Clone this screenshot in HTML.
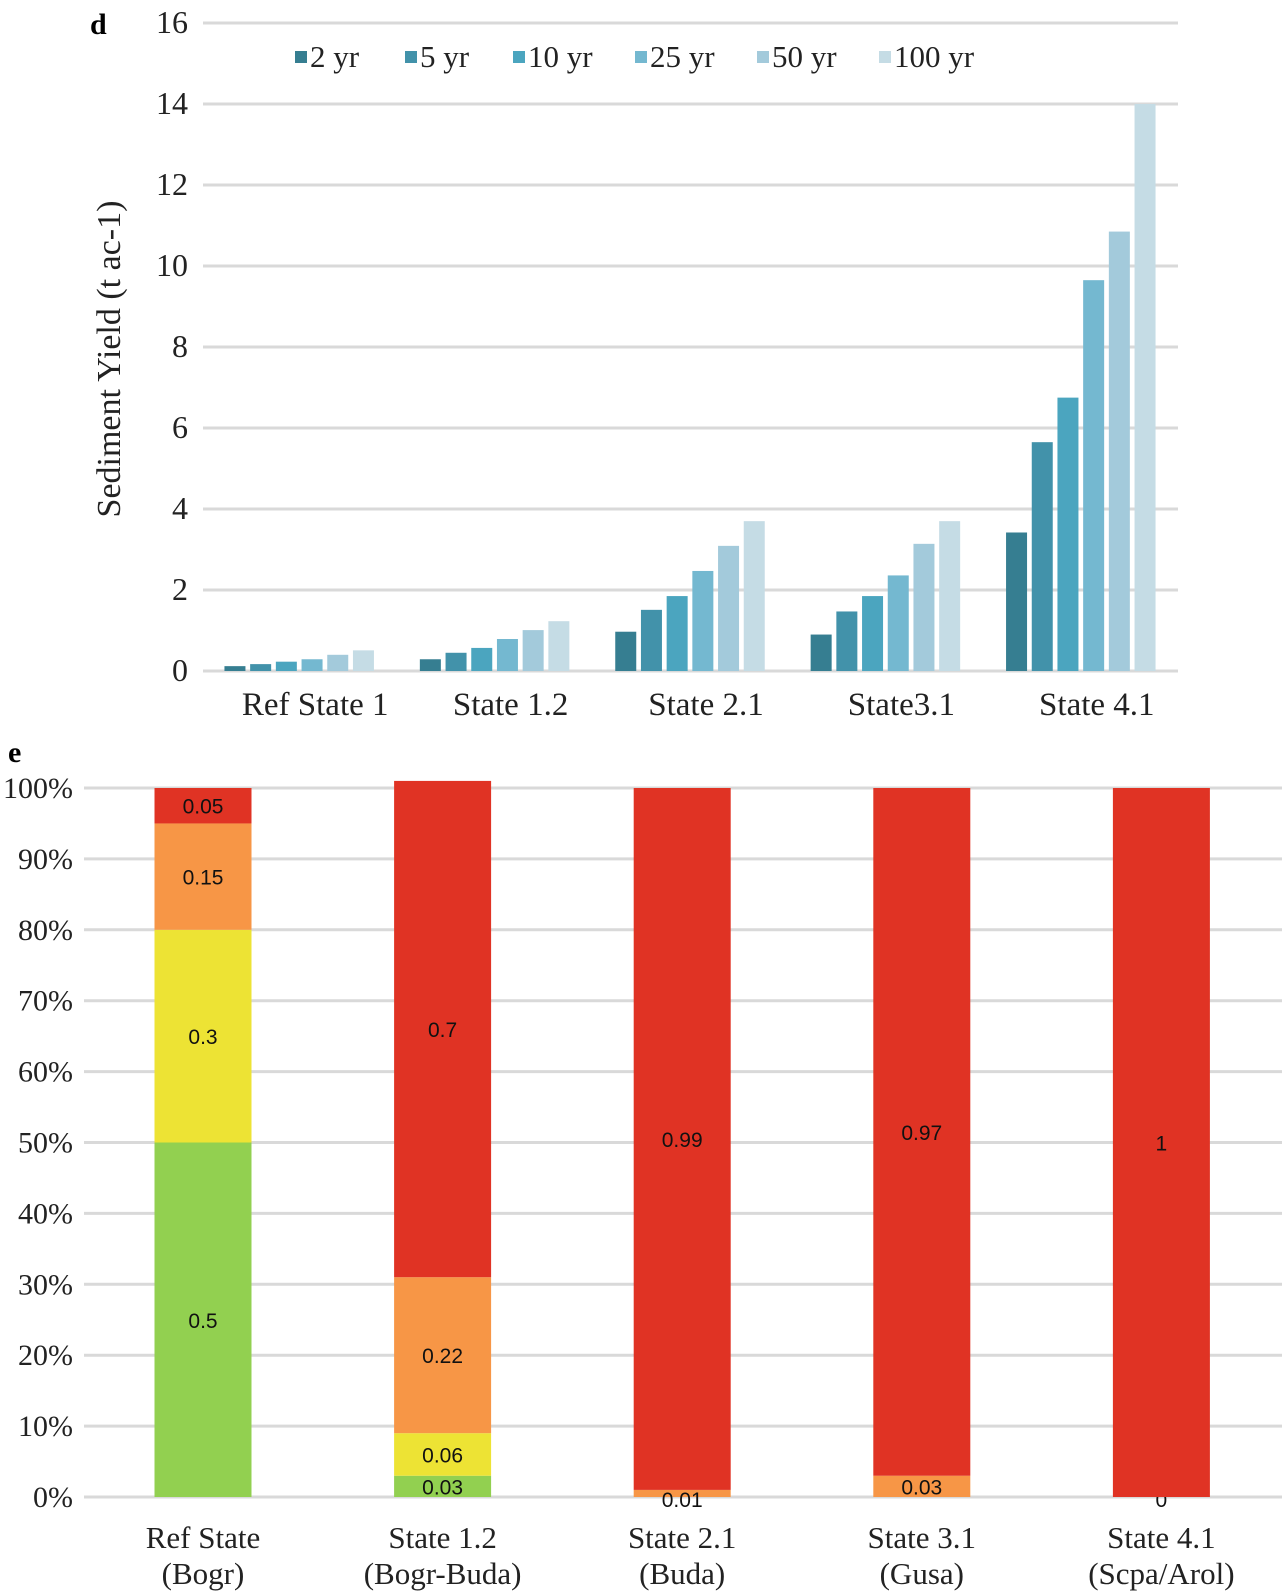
<!DOCTYPE html>
<html><head><meta charset="utf-8"><style>
html,body{margin:0;padding:0;background:#fff;}
svg{display:block;}
</style></head><body>
<svg id="c" width="1284" height="1592" xmlns="http://www.w3.org/2000/svg">
<text x="90" y="34" font-family="Liberation Serif, serif" font-weight="bold" font-size="30">d</text>
<text x="8" y="762" font-family="Liberation Serif, serif" font-weight="bold" font-size="30">e</text>
<text transform="translate(120,359) rotate(-90)" text-anchor="middle" font-family="Liberation Serif, serif" font-size="34" fill="#222">Sediment Yield (t ac-1)</text>
<g id="d"></g><g id="e"></g>
</svg>
<script>
const NS='http://www.w3.org/2000/svg';
const dCats=['Ref State 1','State 1.2','State 2.1','State3.1','State 4.1'];
const dSeries=['2 yr','5 yr','10 yr','25 yr','50 yr','100 yr'];
const dColors=['#367e91','#4292aa','#4ba5bf','#74b8d0','#a3cadb','#c5dce5'];
const v2=[0.12,0.29,0.97,0.90,3.42];
const v5=[0.17,0.45,1.51,1.47,5.65];
const v10=[0.23,0.57,1.85,1.85,6.75];
const v25=[0.29,0.79,2.47,2.36,9.65];
const v50=[0.40,1.01,3.09,3.14,10.85];
const v100=[0.51,1.23,3.70,3.70,14.0];
const dTicks=[0,2,4,6,8,10,12,14,16];

const eCats=[['Ref State','(Bogr)'],['State 1.2','(Bogr-Buda)'],['State 2.1','(Buda)'],['State 3.1','(Gusa)'],['State 4.1','(Scpa/Arol)']];
const eGreen=[0.5,0.03,0,0,0];
const eYellow=[0.3,0.06,0,0,0];
const eOrange=[0.15,0.22,0.01,0.03,0];
const eRed=[0.05,0.7,0.99,0.97,1];
const eTicks=[0,10,20,30,40,50,60,70,80,90,100];

function mk(tag,attrs,parent,text){const el=document.createElementNS(NS,tag);for(const k in attrs)el.setAttribute(k,attrs[k]);if(text!==undefined)el.textContent=text;parent.appendChild(el);return el;}

// Chart d
const gd=document.getElementById('d');
const dy=v=>671-v*40.5;
const bandW=195.4, x0=201.5, pitch=25.7, bw=21;
const dx=i=>x0+bandW*i;
dTicks.forEach(t=>{
  const l=mk('line',{x1:203,x2:1178,y1:dy(t),y2:dy(t),stroke:'#d9d9d9','stroke-width':3},gd);
  
  
  const tx=mk('text',{x:188,y:dy(t)+10,'text-anchor':'end','font-family':'Liberation Serif, serif','font-size':32,fill:'#222'},gd,String(t));
  
  
});
const dVals=[v2,v5,v10,v25,v50,v100];
dCats.forEach((c,i)=>{
  const start=dx(i)+(bandW-(pitch*5+bw))/2;
  dVals.forEach((arr,s)=>{
    const r=mk('rect',{x:start+s*pitch,y:dy(arr[i]),width:bw,height:dy(0)-dy(arr[i]),fill:dColors[s]},gd);
    
    
  });
  const t=mk('text',{x:dx(i)+bandW/2+16,y:715,'text-anchor':'middle','font-family':'Liberation Serif, serif','font-size':33,fill:'#222'},gd,c);
  
  
});
const legX=[295,405,513,635,757,879];
dSeries.forEach((s,k)=>{
  const r=mk('rect',{x:legX[k],y:51,width:12,height:12,fill:dColors[k]},gd);
  
  
  const t=mk('text',{x:legX[k]+15,y:67,'font-family':'Liberation Serif, serif','font-size':31,fill:'#222'},gd,s);
  
  
});

// Chart e
const ge=document.getElementById('e');
const ey=p=>1497-p*7.09;
const ex=i=>203+239.6*i;
eTicks.forEach(t=>{
  const l=mk('line',{x1:84,x2:1282,y1:ey(t),y2:ey(t),stroke:'#d9d9d9','stroke-width':3},ge);
  
  
  const tx=mk('text',{x:73,y:ey(t)+10,'text-anchor':'end','font-family':'Liberation Serif, serif','font-size':30,fill:'#222'},ge,t+'%');
  
  
});
const eSegs=[eGreen,eYellow,eOrange,eRed];
const eCols=['#92d050','#ede334','#f79646','#e03324'];
const eNames=['green','yellow','orange','red'];
eCats.forEach((c,i)=>{
  let cum=0;
  eSegs.forEach((arr,s)=>{
    const v=arr[i];
    const y1=ey((cum+v)*100), y0=ey(cum*100);
    if(v>0){
      const r=mk('rect',{x:ex(i)-48.5,y:y1,width:97,height:y0-y1,fill:eCols[s]},ge);
      
      
    }
    let show=v>0 || (s===2 && eRed[i]===1);
    if(show){
      let ly=(y0+y1)/2+8;
      if(v<0.02) ly=y0+10;
      const t=mk('text',{x:ex(i),y:ly,'text-anchor':'middle','font-family':'Liberation Sans, sans-serif','font-size':21,fill:'#111'},ge,String(v));
      
      
    }
    cum+=v;
  });
  const t1=mk('text',{x:ex(i),y:1548,'text-anchor':'middle','font-family':'Liberation Serif, serif','font-size':31,fill:'#222'},ge,c[0]);
  
  
  const t2=mk('text',{x:ex(i),y:1584,'text-anchor':'middle','font-family':'Liberation Serif, serif','font-size':31,fill:'#222'},ge,c[1]);
  
  
});
</script>
</body></html>
